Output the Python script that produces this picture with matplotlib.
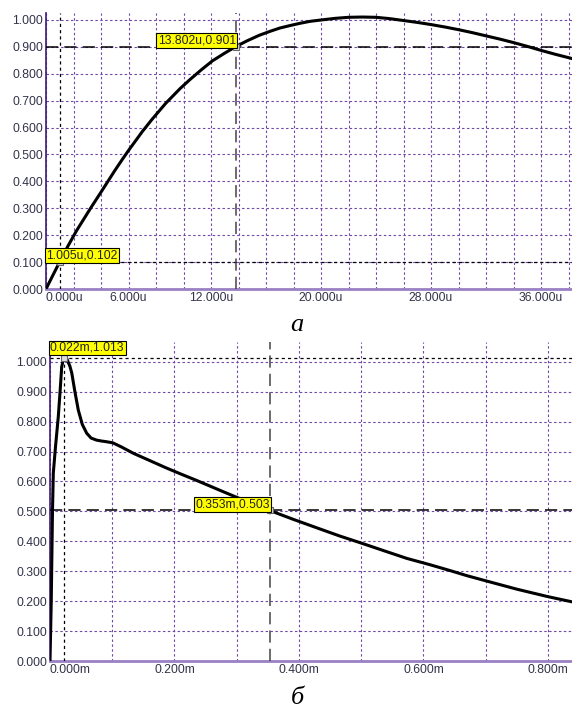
import matplotlib
matplotlib.use("Agg")
import matplotlib.pyplot as plt

plt.rcParams['font.family'] = ['Liberation Sans', 'DejaVu Sans']

# --- chart a: time in u, normalized value ---
a_t = [0, 0.5, 1.005, 1.6, 2.2, 2.7, 3.3, 4, 4.5, 5, 5.5, 6, 6.5, 7, 7.7,
       8.7, 9.75, 10.5, 11.3, 12.1, 13, 13.802, 14.6, 15.5, 16.3, 17, 17.8,
       18.5, 19.2, 20, 21, 22, 23, 24, 25, 26, 27, 28, 29, 30, 31, 32, 33,
       34, 35, 36, 37, 38.3]
a_v = [0, 0.051, 0.102, 0.16, 0.215, 0.256, 0.305, 0.36, 0.40, 0.44, 0.478,
       0.515, 0.55, 0.585, 0.63, 0.69, 0.745, 0.78, 0.815, 0.848, 0.877,
       0.901, 0.922, 0.943, 0.958, 0.970, 0.980, 0.988, 0.995, 1.0, 1.006,
       1.010, 1.011, 1.010, 1.005, 0.998, 0.991, 0.983, 0.974, 0.964, 0.953,
       0.941, 0.929, 0.916, 0.902, 0.887, 0.873, 0.856]
a_grid_x = list(range(0, 40, 2))
a_label_x = [0, 6, 12, 20, 28, 36]
a_label_txt = ['0.000u', '6.000u', '12.000u', '20.000u', '28.000u', '36.000u']
a_cursors = [(1.005, 0.102, '1.005u,0.102'), (13.802, 0.901, '13.802u,0.901')]

# --- chart b: time in m ---
b_t = [0, 0.002, 0.004, 0.0053, 0.009, 0.0133, 0.0165, 0.0188, 0.022, 0.026,
       0.029, 0.032, 0.035, 0.040, 0.0455, 0.052, 0.059, 0.066, 0.075, 0.083,
       0.09, 0.101, 0.115, 0.134, 0.16, 0.187, 0.21, 0.236, 0.278, 0.315,
       0.353, 0.39, 0.43, 0.465, 0.503, 0.54, 0.573, 0.61, 0.643, 0.67, 0.70,
       0.75, 0.80, 0.838]
b_v = [0, 0.2, 0.5, 0.628, 0.72, 0.816, 0.91, 0.983, 1.013, 1.015, 1.0, 0.985,
       0.962, 0.90, 0.838, 0.79, 0.761, 0.745, 0.738, 0.735, 0.733, 0.729,
       0.715, 0.694, 0.67, 0.645, 0.625, 0.603, 0.566, 0.534, 0.503, 0.474,
       0.444, 0.418, 0.392, 0.366, 0.343, 0.322, 0.302, 0.285, 0.268, 0.24,
       0.215, 0.198]
b_grid_x = [0.1 * i for i in range(9)]
b_label_x = [0, 0.2, 0.4, 0.6, 0.8]
b_label_txt = ['0.000m', '0.200m', '0.400m', '0.600m', '0.800m']
b_cursors = [(0.022, 1.013, '0.022m,1.013'), (0.353, 0.503, '0.353m,0.503')]

y_grid = [0.1 * i for i in range(11)]
y_txt = ['%.3f' % v for v in y_grid]

grid_col = '#7048a8'
tick_col = '#33334a'
fs = 8.7
W, H = 572, 709


def setup(ax, xlim, ylim, gx, lx, ltxt):
    ax.set_xlim(*xlim)
    ax.set_ylim(*ylim)
    ax.set_xticks(gx)
    labels = []
    for g in gx:
        hit = [i for i, l in enumerate(lx) if abs(g - l) < 1e-9]
        labels.append(ltxt[hit[0]] if hit else '')
    ax.set_xticklabels(labels)
    ax.set_yticks(y_grid)
    ax.set_yticklabels(y_txt)
    ax.tick_params(length=0, pad=2, labelsize=fs, colors=tick_col)
    ax.get_xticklabels()[0].set_ha('left')
    ax.grid(True, color=grid_col, ls=(0, (2.2, 2.2)), lw=0.8)
    for s in ['top', 'right']:
        ax.spines[s].set_visible(False)
    ax.spines['left'].set_color('#3c1a78')
    ax.spines['left'].set_linewidth(1.2)
    ax.spines['bottom'].set_color('#9a80c4')
    ax.spines['bottom'].set_linewidth(2)


def cursors(ax, cur, top_clip=False):
    x0, y0 = cur[0][0], cur[0][1]
    x1, y1 = cur[1][0], cur[1][1]
    ax.axvline(x0, color='black', ls=(0, (2.5, 2.5)), lw=0.9, zorder=3)
    ax.axhline(y0, color='black', ls=(0, (2.5, 2.5)), lw=0.9, zorder=3)
    ax.axvline(x1, color='#444444', ls=(0, (8, 4)), lw=1.1, zorder=3)
    ax.axhline(y1, color='black', ls=(0, (8, 4)), lw=1.1, zorder=3)
    for x, y, _ in cur:
        ax.plot(x, y, marker='s', ms=5, mfc='#dddddd', mec='#666666', mew=0.8, zorder=5)
    box = dict(boxstyle='square,pad=0.12', fc='#ffff00', ec='black', lw=0.8)
    xl = ax.get_xlim()[0]
    if top_clip:
        ax.text(xl, ax.get_ylim()[1], cur[0][2], ha='left', va='top',
                fontsize=fs, color='#222222', bbox=box, zorder=6)
    else:
        ax.text(xl, y0, cur[0][2], ha='left', va='bottom',
                fontsize=fs, color='#222222', bbox=box, zorder=6)
    ax.text(x1, y1, cur[1][2], ha='right', va='bottom',
            fontsize=fs, color='#222222', bbox=box, zorder=6)


fig = plt.figure(figsize=(W / 100, H / 100), dpi=100)

ax1 = fig.add_axes([46 / W, 1 - 289 / H, 526 / W, 276 / H])
setup(ax1, (0, 38.25), (0, 1.026), a_grid_x, a_label_x, a_label_txt)
ax1.plot(a_t, a_v, color='black', lw=2.2, zorder=4)
cursors(ax1, a_cursors)

ax2 = fig.add_axes([50 / W, 1 - 661 / H, 522 / W, 319 / H])
setup(ax2, (0, 0.8386), (0, 1.066), b_grid_x, b_label_x, b_label_txt)
ax2.plot(b_t, b_v, color='black', lw=2.2, zorder=4)
cursors(ax2, b_cursors, top_clip=True)

fig.text(297 / W, 1 - 325 / H, 'а', ha='center', va='center', fontsize=19,
         style='italic', family='Liberation Serif')
fig.text(297 / W, 1 - 698 / H, 'б', ha='center', va='center', fontsize=19,
         style='italic', family='Liberation Serif')

fig.savefig('out.png', dpi=100)
